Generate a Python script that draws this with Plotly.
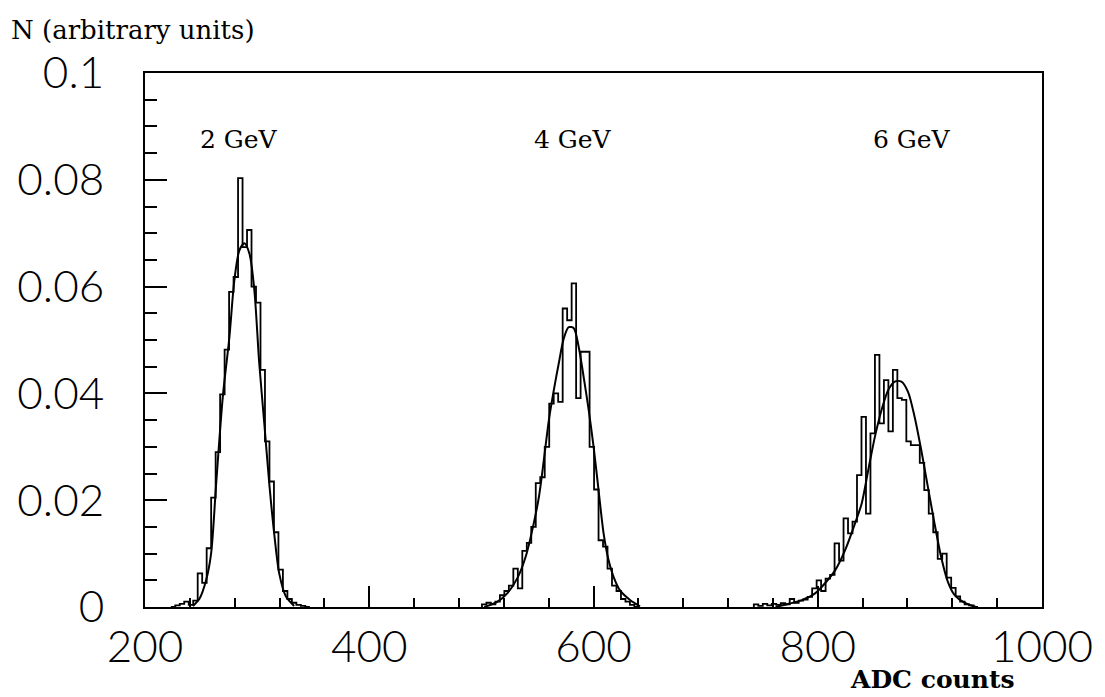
import plotly.graph_objects as go

# ---------------- data ----------------
x_range = [200, 1000]
y_range = [0, 0.1]
x_tick_vals = [200, 400, 600, 800, 1000]
x_tick_text = ["200", "400", "600", "800", "1000"]
y_tick_vals = [0, 0.02, 0.04, 0.06, 0.08, 0.1]
y_tick_text = ["0", "0.02", "0.04", "0.06", "0.08", "0.1"]

bin_width = 4

hist_2gev_start = 223
hist_2gev = [0.0, 0.0003, 0.0006, 0.0010, 0.0004, 0.0012, 0.0063, 0.0045,
             0.0110, 0.0205, 0.0290, 0.0398, 0.0482, 0.0590, 0.0618, 0.0803,
             0.0674, 0.0706, 0.0600, 0.0570, 0.0444, 0.0310, 0.0235, 0.0140,
             0.0070, 0.0030, 0.0015, 0.0008, 0.0004, 0.0002, 0.0]

hist_4gev_start = 500.5
hist_4gev = [0.0005, 0.0008, 0.0005, 0.0010, 0.0022, 0.0030, 0.0040, 0.0072,
             0.0035, 0.0105, 0.0120, 0.0150, 0.0232, 0.0243, 0.0300, 0.0381,
             0.0400, 0.0384, 0.0559, 0.0537, 0.0606, 0.0391, 0.0478, 0.0478,
             0.0300, 0.0220, 0.0125, 0.0113, 0.0072, 0.0040, 0.0030, 0.0015,
             0.0010, 0.0004, 0.0]

hist_6gev_start = 743
hist_6gev = [0.0005, 0.0002, 0.0006, 0.0003, 0.0006, 0.0004, 0.0007, 0.0005,
             0.0015, 0.0008, 0.0012, 0.0014, 0.0019, 0.0035, 0.0050, 0.0030,
             0.0053, 0.0060, 0.0119, 0.0087, 0.0166, 0.0138, 0.0160, 0.0247,
             0.0356, 0.0175, 0.0325, 0.0472, 0.0344, 0.0425, 0.0329, 0.0444,
             0.0391, 0.0388, 0.0310, 0.0303, 0.0303, 0.0270, 0.0219, 0.0175,
             0.0140, 0.0090, 0.0100, 0.0055, 0.0036, 0.0020, 0.0010, 0.0005,
             0.0003, 0.0]

fit_2gev_x = [242.8, 248.7, 254.6, 259.0, 263.5, 269.4, 275.3, 279.7, 284.2,
              288.6, 293.1, 297.5, 301.9, 306.4, 310.8, 315.2, 319.7, 325.6, 333.0]
fit_2gev_y = [0.0002, 0.0016, 0.0051, 0.0101, 0.0232, 0.0394, 0.0506, 0.0612, 0.0668,
              0.0681, 0.0662, 0.0594, 0.0456, 0.0344, 0.0232, 0.0138, 0.0063, 0.0020, 0.0002]

fit_4gev_x = [502.6, 514.4, 523.3, 532.1, 539.5, 545.4, 551.3, 555.7, 560.2, 564.6,
              569.0, 573.5, 577.9, 582.4, 586.8, 591.2, 595.7, 600.1, 604.5, 609.0,
              613.4, 617.8, 623.7, 632.6, 641.5]
fit_4gev_y = [0.0, 0.0010, 0.0026, 0.0054, 0.0094, 0.0144, 0.0206, 0.0275, 0.0350, 0.0406,
              0.0456, 0.0503, 0.0524, 0.0522, 0.0487, 0.0431, 0.0369, 0.0300, 0.0219, 0.0138,
              0.0088, 0.0057, 0.0031, 0.0013, 0.0001]

fit_6gev_x = [762.4, 774.2, 786.0, 797.9, 806.7, 815.6, 824.5, 833.3, 839.2, 845.1,
              851.0, 856.9, 862.8, 868.7, 874.6, 880.5, 886.4, 892.3, 898.2, 904.1,
              910.0, 915.9, 921.8, 930.7, 941.0]
fit_6gev_y = [0.0, 0.0006, 0.0013, 0.0026, 0.0045, 0.0069, 0.0107, 0.0157, 0.0194, 0.0257,
              0.0319, 0.0369, 0.0406, 0.0422, 0.0422, 0.0403, 0.0356, 0.0294, 0.0225, 0.0157,
              0.0094, 0.0048, 0.0023, 0.0008, 0.0]

energy_labels = ["2 GeV", "4 GeV", "6 GeV"]
energy_label_x = [284, 582, 884]
energy_label_y = [0.0875, 0.0875, 0.0875]

y_title = "N (arbitrary units)"
x_title = "ADC counts"


def step_xy(start, vals, w):
    edges = [start + w * i for i in range(len(vals) + 1)]
    xs = [edges[0]] + edges[:-1] + [edges[-1]]
    ys = [0] + list(vals) + [0]
    return xs, ys


fig = go.Figure()

for start, vals in [(hist_2gev_start, hist_2gev), (hist_4gev_start, hist_4gev),
                    (hist_6gev_start, hist_6gev)]:
    xs, ys = step_xy(start, vals, bin_width)
    fig.add_trace(go.Scatter(x=xs, y=ys, mode="lines",
                             line=dict(shape="hv", color="black", width=1.8),
                             showlegend=False, hoverinfo="skip"))

for fx, fy in [(fit_2gev_x, fit_2gev_y), (fit_4gev_x, fit_4gev_y), (fit_6gev_x, fit_6gev_y)]:
    fig.add_trace(go.Scatter(x=fx, y=fy, mode="lines",
                             line=dict(shape="spline", smoothing=0.8, color="black", width=2),
                             showlegend=False, hoverinfo="skip"))

tick_font = dict(family="Lato", size=44, color="black", weight=300)
serif = "DejaVu Serif"

fig.update_layout(
    width=1105, height=697,
    margin=dict(l=145, r=57, t=73, b=90),
    paper_bgcolor="white", plot_bgcolor="white",
    showlegend=False,
    xaxis=dict(
        range=x_range, showgrid=False, zeroline=False,
        showline=True, linecolor="black", linewidth=2, mirror=True,
        tickmode="array", tickvals=x_tick_vals, ticktext=x_tick_text,
        ticks="inside", ticklen=21, tickwidth=1.5, tickcolor="black",
        tickfont=tick_font,
        minor=dict(tickmode="linear", tick0=200, dtick=40, ticks="inside",
                   ticklen=9, tickwidth=1.5, tickcolor="black", showgrid=False),
    ),
    yaxis=dict(
        range=y_range, showgrid=False, zeroline=False,
        showline=True, linecolor="black", linewidth=2, mirror=True,
        tickmode="array", tickvals=y_tick_vals, ticktext=y_tick_text,
        ticks="inside", ticklen=22, tickwidth=1.8, tickcolor="black",
        tickfont=tick_font, ticklabelstandoff=30,
        minor=dict(tickmode="linear", tick0=0, dtick=0.005, ticks="inside",
                   ticklen=12, tickwidth=1.8, tickcolor="black", showgrid=False),
    ),
)

for t, x, y in zip(energy_labels, energy_label_x, energy_label_y):
    fig.add_annotation(x=x, y=y, xref="x", yref="y", text=t, showarrow=False,
                       font=dict(family=serif, size=25, color="black"),
                       xanchor="center", yanchor="middle")

fig.add_annotation(x=-0.152, y=1.08, xref="paper", yref="paper", text=y_title,
                   showarrow=False, xanchor="left", yanchor="middle",
                   font=dict(family=serif, size=26, color="black"))
fig.add_annotation(x=0.878, y=-0.135, xref="paper", yref="paper", text="<b>" + x_title + "</b>",
                   showarrow=False, xanchor="center", yanchor="middle",
                   font=dict(family=serif, size=25, color="black"))

fig.write_html("out.html")
